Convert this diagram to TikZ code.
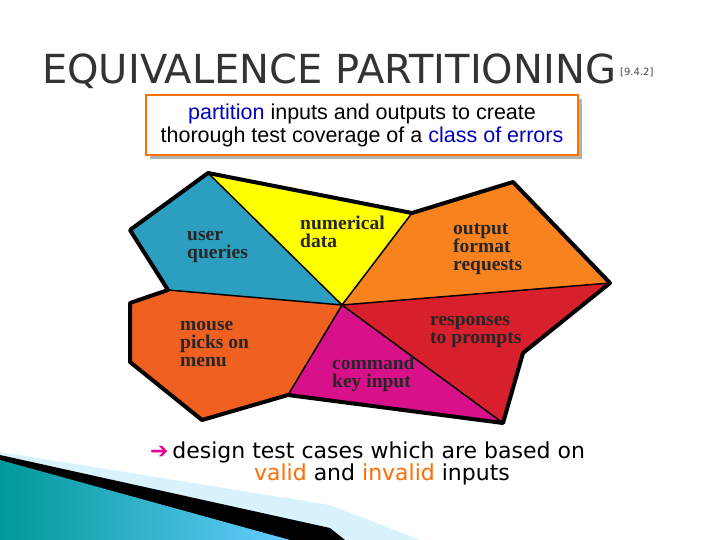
\documentclass[tikz,border=0pt]{standalone}
\usepackage{fontspec}
\setmainfont{Liberation Serif}
\newfontfamily\tsans{DejaVu Sans}
\newfontfamily\arial{Liberation Sans}
\definecolor{cblue}{HTML}{2C9FC0}
\definecolor{cyel}{HTML}{FFFF00}
\definecolor{corg}{HTML}{F8821E}
\definecolor{cred}{HTML}{D81F2C}
\definecolor{cmag}{HTML}{D8108A}
\definecolor{cmouse}{HTML}{F06020}
\begin{document}
\begin{tikzpicture}[x=1pt,y=-1pt,
  lbl/.style={font=\bfseries\fontsize{19.5}{18}\selectfont, align=left, anchor=north west, text=black!85, inner sep=0pt},
  inner/.style={line width=1.5pt},
  outer/.style={line width=4pt, line join=round}]
\useasboundingbox (0,0) rectangle (720,540);
\fill[white] (0,0) rectangle (720,540);
% bottom-left decoration
\fill[cyan!15!white] (0,452) -- (330,505) -- (420,540) -- (0,540) -- cycle;
\fill[black] (0,455) -- (330,528) -- (345,540) -- (0,540) -- cycle;
\shade[left color=cyan!60!black, right color=cyan!50!white!80!blue] (0,460) -- (290,540) -- (0,540) -- cycle;
% title
\node[font=\tsans\fontsize{40}{44}\selectfont, text=black!80, anchor=base west, inner sep=0pt] (title) at (42,84) {EQUIVALENCE PARTITIONING};
\node[font=\tsans\fontsize{10}{12}\selectfont, text=black!70, anchor=base west, inner sep=0pt] (ref) at (620,76) {[9.4.2]};
% box
\fill[gray!60] (150,99) rectangle (582,159);
\draw[orange!90!red, line width=2pt, fill=white] (146,95) rectangle (578,155);
\node[font=\arial\fontsize{21.5}{23}\selectfont, align=center] (sub) at (362,125) {\textcolor{blue!75!black}{partition} inputs and outputs to create\\thorough test coverage of a \textcolor{blue!75!black}{class of errors}};
% polygon
\coordinate (C) at (342,305);
\coordinate (bt) at (208,173);
\coordinate (yr) at (412,213);
\coordinate (ot) at (513,182);
\coordinate (rt) at (610,283);
\coordinate (rn) at (523,353);
\coordinate (rb) at (503,423);
\coordinate (mb) at (288,395);
\coordinate (pb) at (202,420);
\coordinate (pl2) at (130,362);
\coordinate (pl1) at (130,303);
\coordinate (bb) at (168,290);
\coordinate (bl) at (130,230);
\fill[cblue] (bl) -- (bt) -- (C) -- (bb) -- cycle;
\fill[cyel] (bt) -- (yr) -- (C) -- cycle;
\fill[corg] (yr) -- (ot) -- (rt) -- (C) -- cycle;
\fill[cred] (C) -- (rt) -- (rn) -- (rb) -- cycle;
\fill[cmag] (C) -- (rb) -- (mb) -- cycle;
\fill[cmouse] (bb) -- (C) -- (mb) -- (pb) -- (pl2) -- (pl1) -- cycle;
\draw[inner] (bt) -- (C) (yr) -- (C) (rt) -- (C) (rb) -- (C) (mb) -- (C) (bb) -- (C);
\draw[outer] (bl) -- (bt) -- (yr) -- (ot) -- (rt) -- (rn) -- (rb) -- (mb) -- (pb) -- (pl2) -- (pl1) -- (bb) -- cycle;
\node[lbl] (uq) at (187,231) {user\\queries};
\node[lbl] (nd) at (300,216) {numerical\\data};
\node[lbl] (ofr) at (453,223) {output\\format\\requests};
\node[lbl] (mp) at (180,321) {mouse\\picks on\\menu};
\node[lbl] (rp) at (430,316) {responses\\to prompts};
\node[lbl] (ck) at (332,356) {command\\key input};
% bottom text
\node[font=\tsans\fontsize{22}{24}\selectfont, anchor=base west, inner sep=0pt] (d1) at (150,458) {\textcolor{magenta}{\char"2794}\,design test cases which are based on};
\node[font=\tsans\fontsize{22}{24}\selectfont, anchor=base, inner sep=0pt] (d2) at (382,480) {\textcolor{orange!85!red}{valid} and \textcolor{orange!85!red}{invalid} inputs};
\end{tikzpicture}
\end{document}
